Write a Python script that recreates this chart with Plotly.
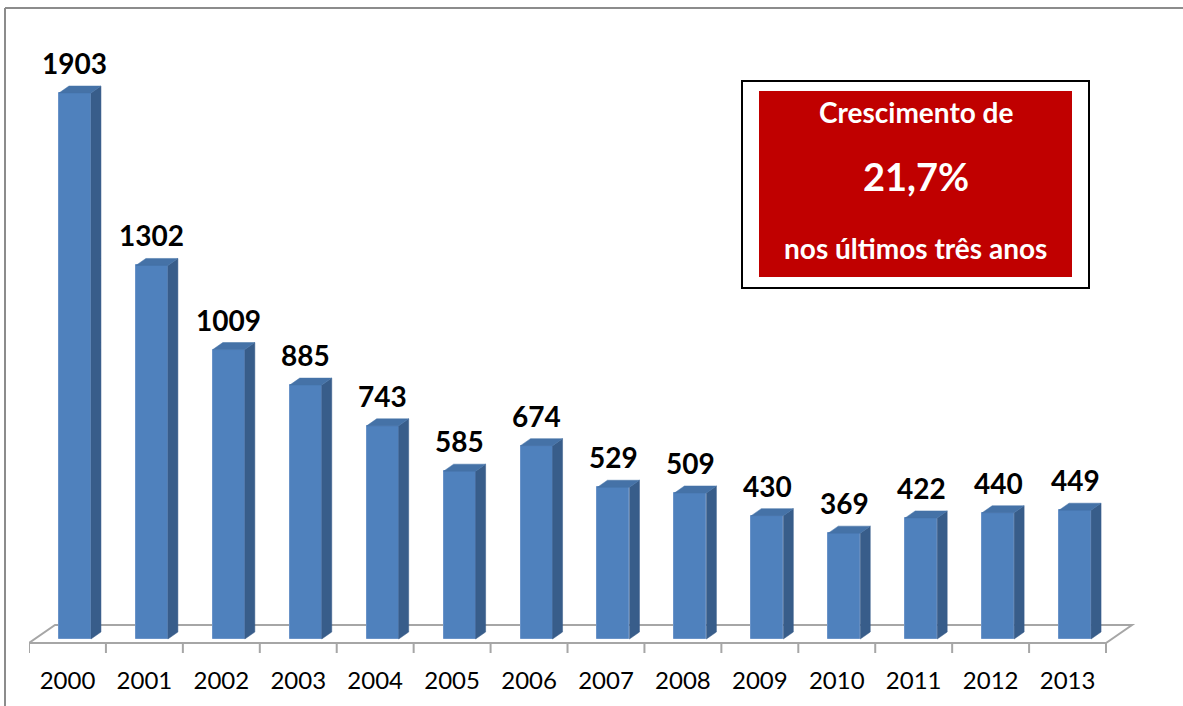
"""Excel-style 3D column chart recreated with Plotly."""
import plotly.graph_objects as go

years = ["2000", "2001", "2002", "2003", "2004", "2005", "2006",
         "2007", "2008", "2009", "2010", "2011", "2012", "2013"]
values = [1903, 1302, 1009, 885, 743, 585, 674, 529, 509, 430, 369, 422, 440, 449]

box_lines = ["Crescimento de", "21,7%", "nos últimos três anos"]

# pixel geometry of the page (1183x706)
W, H = 1183, 706
PLOT_L, PLOT_R, PLOT_T, PLOT_B = 29, 1140, 0, 656
CAT_PX = 76.93          # width of one category
Y0_PX = 639             # pixel row of value 0 (bar front bottom)
K = 0.2869              # pixels per unit on y

FONT = "Lato"
FRONT = "#4F81BD"
SIDE = "#385D8A"
TOP = "#4572A7"
RED = "#C00000"
GRID = "#A6A6A6"

x_lo = -0.5
x_hi = x_lo + (PLOT_R - PLOT_L) / CAT_PX
y_lo = -(PLOT_B - Y0_PX) / K
y_hi = (Y0_PX - PLOT_T) / K


def px_x(px):
    return (px - PLOT_L) / (PLOT_R - PLOT_L)


def px_y(py):
    return (PLOT_B - py) / (PLOT_B - PLOT_T)


idx = list(range(len(years)))
n = len(years)

# 3D depth offsets (in data units)
bar_off = -8.5 / CAT_PX
bar_w = 32 / CAT_PX
bdx = 10 / CAT_PX
bdy = 7 / K
floor_front = -4 / K
fdx = 26 / CAT_PX
fdy = 18 / K

fig = go.Figure()

# tick marks at category boundaries
tx, ty = [], []
for b in range(n + 1):
    tx += [x_lo + b, x_lo + b, None]
    ty += [floor_front, floor_front - 10 / K, None]
fig.add_trace(go.Scatter(x=tx, y=ty, mode="lines", line=dict(color=GRID, width=2),
                         hoverinfo="skip", showlegend=False))

# front faces
fig.add_trace(go.Bar(x=idx, y=values, width=bar_w, offset=bar_off,
                     marker=dict(color=FRONT, line=dict(color="#6A93C8", width=1)),
                     showlegend=False))

# side and top faces
sx, sy, tpx, tpy = [], [], [], []
for i, v in zip(idx, values):
    xl = i + bar_off
    xr = xl + bar_w
    sx += [xr, xr, xr + bdx, xr + bdx, xr, None]
    sy += [0, v, v + bdy, bdy, 0, None]
    tpx += [xl, xr, xr + bdx, xl + bdx, xl, None]
    tpy += [v, v, v + bdy, v + bdy, v, None]
fig.add_trace(go.Scatter(x=sx, y=sy, mode="lines", fill="toself", fillcolor=SIDE,
                         line=dict(color=SIDE, width=0.5), hoverinfo="skip", showlegend=False))
fig.add_trace(go.Scatter(x=tpx, y=tpy, mode="lines", fill="toself", fillcolor=TOP,
                         line=dict(color=TOP, width=0.5), hoverinfo="skip", showlegend=False))

# value labels
for i, v in zip(idx, values):
    fig.add_annotation(x=i + bar_off + bar_w / 2, y=v, text=f"<b>{v}</b>",
                       showarrow=False, yanchor="bottom", yshift=11,
                       font=dict(family=FONT, size=28, color="black"))

# floor parallelogram (below the bars)
floor_path = (f"M {x_lo},{floor_front} L {x_lo + n},{floor_front} "
              f"L {x_lo + n + fdx},{floor_front + fdy} L {x_lo + fdx},{floor_front + fdy} Z")
shapes = [
    dict(type="path", xref="x", yref="y", path=floor_path, layer="below",
         fillcolor="white", line=dict(color=GRID, width=2)),
    # highlight box
    dict(type="rect", xref="paper", yref="paper", x0=px_x(742), x1=px_x(1089),
         y0=px_y(288), y1=px_y(81), line=dict(color="black", width=2), fillcolor="white"),
    dict(type="rect", xref="paper", yref="paper", x0=px_x(759), x1=px_x(1072),
         y0=px_y(277), y1=px_y(91), line=dict(width=0), fillcolor=RED),
    # outer chart frame
    dict(type="line", xref="paper", yref="paper", x0=px_x(5), x1=px_x(W + 5),
         y0=px_y(8), y1=px_y(8), line=dict(color="#8C8C8C", width=2)),
    dict(type="line", xref="paper", yref="paper", x0=px_x(5), x1=px_x(5),
         y0=px_y(8), y1=px_y(H + 5), line=dict(color="#8C8C8C", width=2)),
]
cx = px_x((759 + 1072) / 2)
for txt, py, size in zip(box_lines, [112, 176, 248], [28, 38, 28]):
    fig.add_annotation(x=cx, y=px_y(py), xref="paper", yref="paper", text=f"<b>{txt}</b>",
                       showarrow=False, xanchor="center", yanchor="middle",
                       font=dict(family=FONT, size=size, color="white"))

fig.update_layout(
    width=W, height=H,
    margin=dict(l=PLOT_L, r=W - PLOT_R, t=PLOT_T, b=H - PLOT_B),
    paper_bgcolor="white", plot_bgcolor="white",
    shapes=shapes,
    xaxis=dict(range=[x_lo, x_hi], tickvals=idx, ticktext=years, ticks="",
               showgrid=False, zeroline=False, showline=False, ticklabelstandoff=8,
               tickfont=dict(family=FONT, size=24, color="black"), fixedrange=True),
    yaxis=dict(range=[y_lo, y_hi], visible=False, fixedrange=True),
    bargap=0,
)

fig.write_html("out.html", config={"displayModeBar": False},
               post_script="document.body.style.margin='0';")
